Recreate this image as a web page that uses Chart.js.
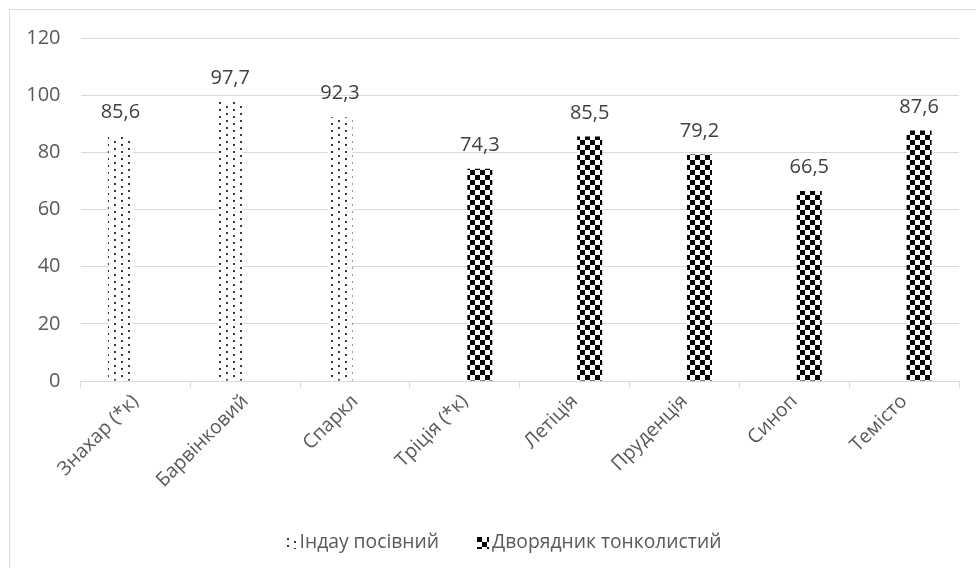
<!DOCTYPE html>
<html>
<head>
<meta charset="utf-8">
<script src="https://cdn.jsdelivr.net/npm/chart.js@4/dist/chart.umd.min.js"></script>
<style>
  html, body { margin: 0; padding: 0; background: #ffffff; }
  #wrap { width: 976px; height: 568px; position: relative; }
</style>
</head>
<body>
<div id="wrap"><canvas id="c" width="976" height="568"></canvas></div>
<script>
// Varieties along the category axis
const categories = ['Знахар (*к)', 'Барвінковий', 'Спаркл', 'Тріція (*к)', 'Летіція', 'Пруденція', 'Синоп', 'Темісто'];
// One series per species; empty slots where a variety belongs to the other species
const seriesNames = ['Індау посівний', 'Дворядник тонколистий'];
const induValues = [85.6, 97.7, 92.3, null, null, null, null, null];
const dvoriadnykValues = [null, null, null, 74.3, 85.5, 79.2, 66.5, 87.6];
const yTicks = [0, 20, 40, 60, 80, 100, 120];

const FONT = '"Open Sans", "Noto Sans", sans-serif';
const TEXT = '#595959';
const GRID = '#d9d9d9';

// Fill patterns: staggered dots and a black-and-white checkerboard
function dotTile() {
  const c = document.createElement('canvas');
  c.width = 14; c.height = 7;
  const g = c.getContext('2d');
  g.fillStyle = '#ffffff'; g.fillRect(0, 0, 14, 7);
  g.fillStyle = '#3a3a3a';
  g.fillRect(2, 1, 2, 2);
  g.fillRect(9, 4, 2, 2);
  return c;
}
function checkerTile() {
  const c = document.createElement('canvas');
  c.width = 10; c.height = 10;
  const g = c.getContext('2d');
  g.fillStyle = '#ffffff'; g.fillRect(0, 0, 10, 10);
  g.fillStyle = '#000000';
  g.fillRect(0, 0, 5, 5);
  g.fillRect(5, 5, 5, 5);
  return c;
}
const ctx0 = document.getElementById('c').getContext('2d');
const dotFill = ctx0.createPattern(dotTile(), 'repeat');
const checkerFill = ctx0.createPattern(checkerTile(), 'repeat');

// Thin frame on the left and top edges of the chart area
const framePlugin = {
  id: 'frame',
  beforeDraw(chart) {
    const ctx = chart.ctx;
    ctx.save();
    ctx.strokeStyle = GRID;
    ctx.lineWidth = 1;
    ctx.beginPath();
    ctx.moveTo(9.5, chart.height);
    ctx.lineTo(9.5, 9.5);
    ctx.lineTo(chart.width, 9.5);
    ctx.stroke();
    ctx.restore();
  }
};

// Value written above each bar, decimal comma
const valueLabels = {
  id: 'valueLabels',
  afterDatasetsDraw(chart) {
    const ctx = chart.ctx;
    ctx.save();
    ctx.font = '20px ' + FONT;
    ctx.fillStyle = '#404040';
    ctx.textAlign = 'center';
    ctx.textBaseline = 'alphabetic';
    chart.data.datasets.forEach((ds, i) => {
      const meta = chart.getDatasetMeta(i);
      meta.data.forEach((el, j) => {
        const v = ds.data[j];
        if (v === null || v === undefined) return;
        ctx.fillText(String(v).replace('.', ','), el.x, el.y - 18);
      });
    });
    ctx.restore();
  }
};

// Legend row under the axis: small patterned swatch right before each series name
const legendRow = {
  id: 'legendRow',
  afterDraw(chart) {
    const ctx = chart.ctx;
    const fills = chart.data.datasets.map(d => d.backgroundColor);
    const names = chart.data.datasets.map(d => d.label);
    const box = 12, boxGap = 3, itemGap = 38, cy = 543;
    ctx.save();
    ctx.font = '19.3px ' + FONT;
    const widths = names.map(n => ctx.measureText(n).width);
    const total = widths.reduce((a, w) => a + box + boxGap + w, 0) + itemGap * (names.length - 1);
    let x = 503 - total / 2;
    names.forEach((n, i) => {
      const bx = Math.round(x), by = Math.round(cy - box / 2);
      ctx.save();
      ctx.translate(bx, by);
      ctx.fillStyle = fills[i];
      ctx.fillRect(0, 0, box, box);
      ctx.restore();
      ctx.fillStyle = TEXT;
      ctx.textAlign = 'left';
      ctx.textBaseline = 'middle';
      ctx.fillText(n, x + box + boxGap, cy);
      x += box + boxGap + widths[i] + itemGap;
    });
    ctx.restore();
  }
};

new Chart(document.getElementById('c'), {
  type: 'bar',
  data: {
    labels: categories,
    datasets: [
      { label: seriesNames[0], data: induValues, backgroundColor: dotFill, borderWidth: 0 },
      { label: seriesNames[1], data: dvoriadnykValues, backgroundColor: checkerFill, borderWidth: 0 }
    ]
  },
  options: {
    responsive: false,
    animation: false,
    devicePixelRatio: 1,
    categoryPercentage: 0.546,
    barPercentage: 0.833,
    layout: { padding: { top: 38, right: 17, left: 10, bottom: 60 } },
    plugins: {
      legend: { display: false },
      tooltip: { enabled: false }
    },
    scales: {
      x: {
        afterFit(scale) { scale.height = 127; },
        grid: { drawOnChartArea: false, drawTicks: true, tickLength: 7, color: GRID },
        border: { color: GRID },
        ticks: {
          font: { family: FONT, size: 19.5 },
          color: TEXT,
          minRotation: 45,
          maxRotation: 45,
          padding: 2
        }
      },
      y: {
        min: 0,
        max: 120,
        afterBuildTicks(scale) { scale.ticks = yTicks.map(v => ({ value: v })); },
        afterFit(scale) { scale.width = 70.5; },
        grid: { color: GRID, drawTicks: false },
        border: { display: false },
        ticks: {
          font: { family: FONT, size: 20 },
          color: TEXT,
          padding: 20
        }
      }
    }
  },
  plugins: [framePlugin, valueLabels, legendRow]
});
</script>
</body>
</html>
